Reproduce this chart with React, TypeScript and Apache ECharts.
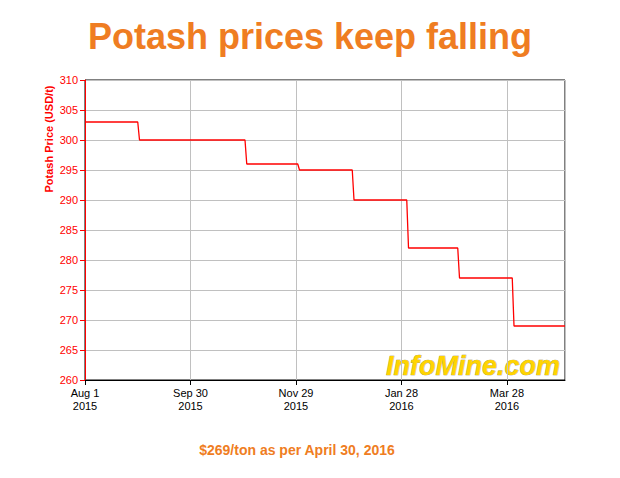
import React, { useEffect, useRef } from "react";
import * as echarts from "echarts";

const titleText = "Potash prices keep falling";
const subtitleText = "$269/ton as per April 30, 2016";
const yAxisName = "Potash Price (USD/t)";
const logoText = "InfoMine.com";

const startDate = "2015-08-01";
const endDate = "2016-04-30";
const dates = [
  "2015-08-01", "2015-08-31",
  "2015-09-01", "2015-10-31",
  "2015-11-01", "2015-11-30",
  "2015-12-01", "2015-12-31",
  "2016-01-01", "2016-01-31",
  "2016-02-01", "2016-02-29",
  "2016-03-01", "2016-03-31",
  "2016-04-01", "2016-04-30",
];
const prices = [303, 303, 300, 300, 296, 296, 295, 295, 290, 290, 282, 282, 277, 277, 269, 269];

const MONTHS = ["Jan", "Feb", "Mar", "Apr", "May", "Jun", "Jul", "Aug", "Sep", "Oct", "Nov", "Dec"];
const DAY = 86400000;
const t0 = Date.parse(startDate + "T00:00:00Z");
const dayOf = (s: string) => Math.round((Date.parse(s + "T00:00:00Z") - t0) / DAY);

export default function App() {
  const ref = useRef<HTMLDivElement>(null);
  useEffect(() => {
    if (!ref.current) return;
    const chart = echarts.init(ref.current, undefined, { renderer: "svg" });
    const font = "'Liberation Sans', Arial, Helvetica, sans-serif";
    chart.setOption({
      animation: false,
      backgroundColor: "#ffffff",
      textStyle: { fontFamily: font },
      grid: {
        left: 85,
        right: 55,
        top: 80,
        bottom: 98,
        show: true,
        borderColor: "#000000",
        borderWidth: 1,
        containLabel: false,
      },
      graphic: [
        {
          type: "text",
          left: "center",
          top: 18,
          style: {
            text: titleText,
            font: "bold 36px " + font,
            fill: "#ef7d22",
          },
        },
        {
          type: "text",
          x: 297,
          y: 450,
          style: {
            text: subtitleText,
            font: "bold 14px " + font,
            fill: "#ef7d22",
            textAlign: "center",
            textVerticalAlign: "middle",
          },
        },
        {
          type: "text",
          x: 49,
          y: 139,
          rotation: Math.PI / 2,
          style: {
            text: yAxisName,
            font: "bold 11px " + font,
            fill: "#ff0000",
            textAlign: "center",
            textVerticalAlign: "middle",
          },
        },
        {
          type: "text",
          x: 386,
          y: 366,
          z: -1,
          style: {
            text: logoText,
            font: "italic bold 27px " + font,
            fill: "#ffd400",
            stroke: "#9a8a40",
            lineWidth: 0.6,
            textAlign: "left",
            textVerticalAlign: "middle",
            shadowColor: "rgba(80,80,80,0.7)",
            shadowOffsetX: 1.5,
            shadowOffsetY: 1.5,
            shadowBlur: 1,
          },
        },
      ],
      xAxis: {
        type: "value",
        min: 0,
        max: dayOf(endDate),
        interval: 60,
        axisLine: { show: true, lineStyle: { color: "#000000", width: 1 } },
        axisTick: { show: true, length: 5, lineStyle: { color: "#000000" } },
        splitLine: { show: true, lineStyle: { color: "#c0c0c0", width: 1 } },
        axisLabel: {
          color: "#000000",
          fontSize: 11,
          lineHeight: 13,
          margin: 6,
          showMaxLabel: false,
          formatter: (v: number) => {
            if (v % 60 !== 0) return "";
            const d = new Date(t0 + v * DAY);
            return MONTHS[d.getUTCMonth()] + " " + d.getUTCDate() + "\n" + d.getUTCFullYear();
          },
        },
      },
      yAxis: {
        type: "value",
        min: 260,
        max: 310,
        interval: 5,
        axisLine: { show: true, lineStyle: { color: "#ff0000", width: 1 } },
        axisTick: { show: true, length: 5, lineStyle: { color: "#ff0000" } },
        splitLine: { show: true, lineStyle: { color: "#c0c0c0", width: 1 } },
        axisLabel: { color: "#ff0000", fontSize: 11, margin: 7 },
      },
      series: [
        {
          type: "line",
          data: dates.map((d, i) => [dayOf(d), prices[i]]),
          showSymbol: false,
          symbol: "none",
          lineStyle: { color: "#ff0000", width: 1.3 },
          z: 3,
        },
      ],
    });
    return () => chart.dispose();
  }, []);
  return (
    <div
      ref={ref}
      style={{ position: "fixed", left: 0, top: 0, width: 620, height: 478, background: "#fff" }}
    />
  );
}
